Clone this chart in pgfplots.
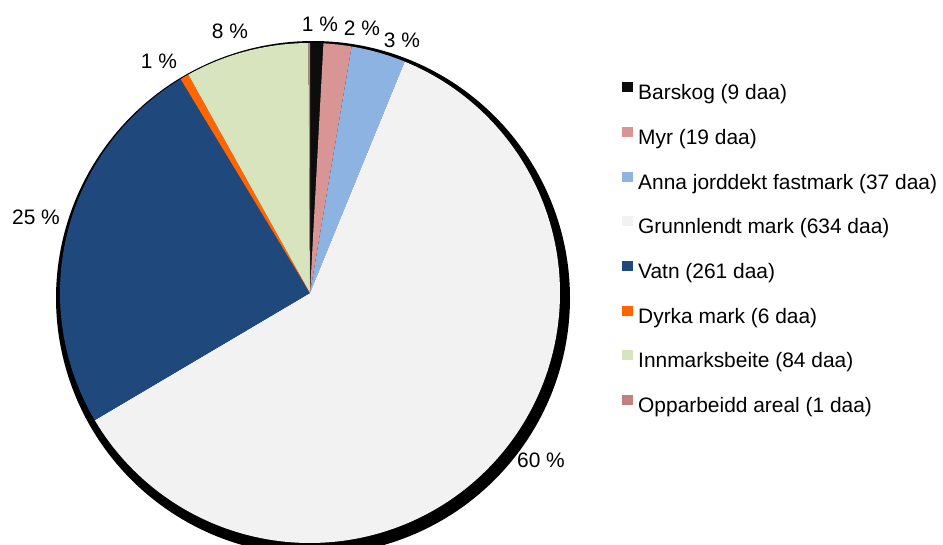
\documentclass[border=0pt]{standalone}
\usepackage{pgfplots}
\pgfplotsset{compat=1.18}
\usepackage{fontspec}
\setmainfont{Liberation Sans}
\definecolor{cBar}{HTML}{0D0D0D}
\definecolor{cMyr}{HTML}{D99594}
\definecolor{cAnna}{HTML}{8DB3E2}
\definecolor{cGrunn}{HTML}{F2F2F2}
\definecolor{cVatn}{HTML}{1F497D}
\definecolor{cDyrka}{HTML}{FF6600}
\definecolor{cInn}{HTML}{D7E4BD}
\definecolor{cOpp}{HTML}{C47E7E}
% values in daa
\def\vals{9/A,19/B,37/C,634/D,261/E,6/F,84/G,1/H}
\gdef\total{0}%
\foreach \v/\k in \vals {\pgfmathsetmacro\t{\total+\v}\xdef\total{\t}}%
\gdef\cum{0}%
\foreach \v/\k in \vals {%
  \pgfmathsetmacro\s{90-\cum/\total*360}%
  \pgfmathsetmacro\n{\cum+\v}%
  \xdef\cum{\n}%
  \pgfmathsetmacro\e{90-\cum/\total*360}%
  \expandafter\xdef\csname s\k\endcsname{\s}%
  \expandafter\xdef\csname e\k\endcsname{\e}%
}%
\newcommand\pieslice[3]{%
  \addplot[fill=#3, draw=none, domain=#1:#2, samples=150] ({310+250*cos(x)},{252+250*sin(x)}) -- (310,252) -- cycle;}
\begin{document}
\begin{tikzpicture}
\begin{axis}[
  scale only axis, width=943bp, height=545bp,
  xmin=0, xmax=943, ymin=0, ymax=545,
  hide axis, clip=true,
  legend cell align=left,
  legend image code/.code={\fill[#1] (0bp,2.5bp) rectangle (11bp,12.5bp);},
  legend style={at={(axis cs:622,463)}, anchor=north west, draw=none, fill=none, inner sep=0pt,
    row sep=22.2bp, column sep=5bp,
    nodes={inner sep=0pt, text height=15bp, text depth=5bp},
    font=\fontsize{21}{25}\selectfont},
]
\coordinate (bl) at (axis cs:0,0);
\coordinate (tr) at (axis cs:943,545);
\addplot[fill=black, draw=none, domain=0:360, samples=240, forget plot] ({313+257*cos(x)},{247+257*sin(x)}) -- cycle;
\pieslice{\eA}{\sA}{cBar}\addlegendentry{Barskog (9 daa)}
\pieslice{\eB}{\sB}{cMyr}\addlegendentry{Myr (19 daa)}
\pieslice{\eC}{\sC}{cAnna}\addlegendentry{Anna jorddekt fastmark (37 daa)}
\pieslice{\eD}{\sD}{cGrunn}\addlegendentry{Grunnlendt mark (634 daa)}
\pieslice{\eE}{\sE}{cVatn}\addlegendentry{Vatn (261 daa)}
\pieslice{\eF}{\sF}{cDyrka}\addlegendentry{Dyrka mark (6 daa)}
\pieslice{\eG}{\sG}{cInn}\addlegendentry{Innmarksbeite (84 daa)}
\pieslice{\eH}{\sH}{cOpp}\addlegendentry{Opparbeidd areal (1 daa)}
\begin{scope}[font=\fontsize{21}{25}\selectfont]
\node at (axis cs:320,521) {1 \%};
\node at (axis cs:362,517) {2 \%};
\node at (axis cs:402,505) {3 \%};
\node at (axis cs:541,85) {60 \%};
\node at (axis cs:36,328) {25 \%};
\node at (axis cs:159,484) {1 \%};
\node at (axis cs:230,514) {8 \%};
\end{scope}
\end{axis}
\pgfresetboundingbox
\path[use as bounding box] (bl) rectangle (tr);
\end{tikzpicture}
\end{document}
